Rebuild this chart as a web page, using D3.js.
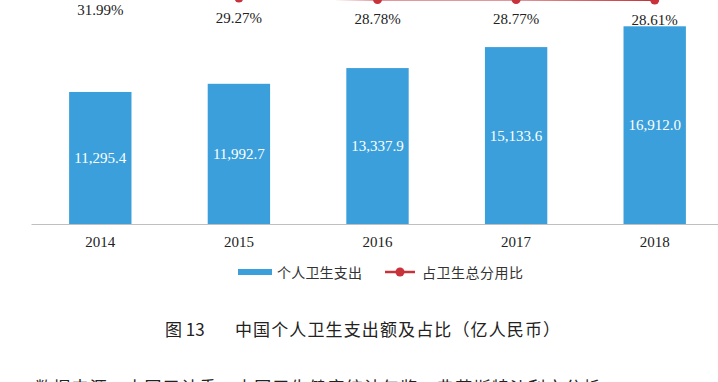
<!DOCTYPE html>
<html><head><meta charset="utf-8">
<script src="https://cdn.jsdelivr.net/npm/d3@7"></script>
<style>html,body{margin:0;padding:0;background:#fff;overflow:hidden}</style>
</head><body>
<script>
const years = ["2014","2015","2016","2017","2018"];
const spending = [11295.4, 11992.7, 13337.9, 15133.6, 16912.0];
const share = [31.99, 29.27, 28.78, 28.77, 28.61];
const legendLabels = ["个人卫生支出", "占卫生总分用比"];
const titleNum = "图 13";
const titleText = "中国个人卫生支出额及占比（亿人民币）";
const source = "数据来源：中国卫计委，中国卫生健康统计年鉴，弗若斯特沙利文分析";

const W = 718, H = 382;
const svg = d3.select("body").append("svg").attr("width", W).attr("height", H);
const serif = "'Liberation Serif','Times New Roman',serif";
const cjk = "'Noto Sans CJK SC',sans-serif";

const x = d3.scaleBand().domain(years).range([31, 724]).paddingInner(0.55).paddingOuter(0.275);
const y = d3.scaleLinear().domain([0, 20000]).range([224, -9.8]);
const y2 = d3.scaleLinear().domain([20, 35]).range([25.8, -19.2]);

// bars
svg.append("g").selectAll("rect").data(years).join("rect")
  .attr("x", d => x(d)).attr("width", x.bandwidth())
  .attr("y", (d,i) => y(spending[i])).attr("height", (d,i) => y(0) - y(spending[i]))
  .attr("fill", "#3a9fda");

svg.append("g").selectAll("text").data(years).join("text")
  .attr("x", d => x(d) + x.bandwidth()/2)
  .attr("y", (d,i) => (y(spending[i]) + y(0))/2)
  .attr("text-anchor","middle").attr("dominant-baseline","central")
  .attr("font-family", serif).attr("font-size", 15).attr("fill","#fff")
  .text((d,i) => d3.format(",.1f")(spending[i]));

// axis
const ax = svg.append("g").attr("transform","translate(0,224)")
  .call(d3.axisBottom(x).tickSize(0).tickPadding(12));
ax.select(".domain").attr("stroke","#bfbfbf").attr("stroke-width",1.2);
ax.selectAll("text").attr("font-family", serif).attr("font-size", 15).attr("fill","#222");

// line
const cx = d => x(d) + x.bandwidth()/2;
svg.append("path").datum(years)
  .attr("d", d3.line().x(d => cx(d)).y((d,i) => y2(share[i])))
  .attr("fill","none").attr("stroke","#c8323a").attr("stroke-width",2);
svg.append("g").selectAll("circle").data(years).join("circle")
  .attr("cx", d => cx(d)).attr("cy", (d,i) => y2(share[i])).attr("r", 4.5).attr("fill","#c8323a");
svg.append("g").selectAll("text").data(years).join("text")
  .attr("x", d => cx(d)).attr("y", (d,i) => y2(share[i]) + 20)
  .attr("text-anchor","middle").attr("dominant-baseline","central")
  .attr("font-family", serif).attr("font-size", 15).attr("fill","#222")
  .text((d,i) => share[i].toFixed(2) + "%");

// legend
const lg = svg.append("g");
lg.append("rect").attr("x",238).attr("y",269).attr("width",34).attr("height",6).attr("fill","#3a9fda");
lg.append("text").attr("x",277).attr("y",272).attr("dominant-baseline","central")
  .attr("font-family",cjk).attr("font-size",14).attr("fill","#333")
  .attr("textLength",85).attr("lengthAdjust","spacing").text(legendLabels[0]);
lg.append("line").attr("x1",385).attr("x2",415).attr("y1",272).attr("y2",272).attr("stroke","#c8323a").attr("stroke-width",2.5);
lg.append("circle").attr("cx",400).attr("cy",272).attr("r",4.5).attr("fill","#c8323a");
lg.append("text").attr("x",422).attr("y",272).attr("dominant-baseline","central")
  .attr("font-family",cjk).attr("font-size",14).attr("fill","#333")
  .attr("textLength",101).attr("lengthAdjust","spacing").text(legendLabels[1]);

// title & source
svg.append("text").attr("x",165).attr("y",328).attr("dominant-baseline","central")
  .attr("font-family",cjk).attr("font-size",17).attr("fill","#222").text(titleNum);
svg.append("text").attr("x",235).attr("y",328).attr("dominant-baseline","central")
  .attr("font-family",cjk).attr("font-size",17).attr("fill","#222")
  .attr("textLength",325).attr("lengthAdjust","spacing").text(titleText);
svg.append("text").attr("x",35).attr("y",386).attr("dominant-baseline","central")
  .attr("font-family",cjk).attr("font-size",17).attr("fill","#222")
  .attr("textLength",565).attr("lengthAdjust","spacing").text(source);
</script>
</body></html>
